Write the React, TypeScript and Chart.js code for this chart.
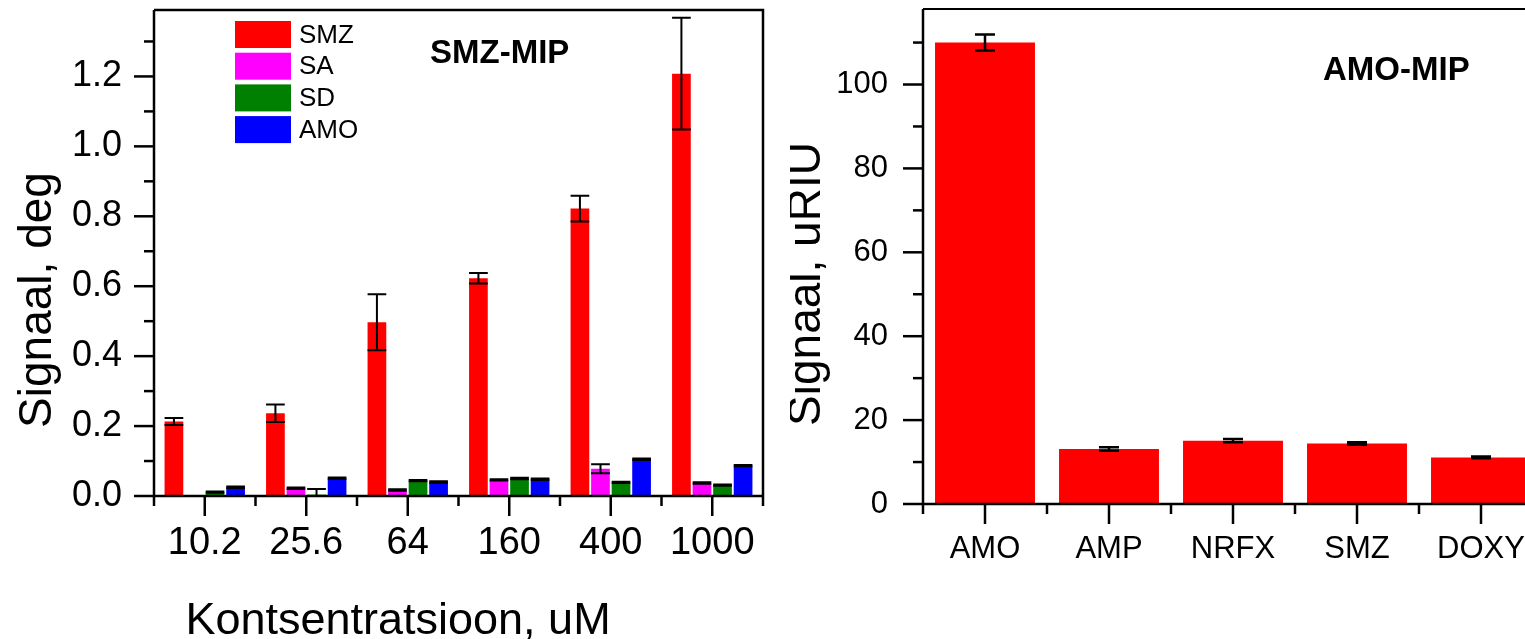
import React, { useEffect, useRef } from "react";
import { Chart, registerables } from "chart.js";

Chart.register(...registerables);

// ---------- Left chart data (SMZ-MIP) ----------
const CONCENTRATIONS = ["10.2", "25.6", "64", "160", "400", "1000"];
const SMZ_VALUES = [0.213, 0.237, 0.497, 0.623, 0.822, 1.208];
const SMZ_ERRORS = [0.01, 0.025, 0.08, 0.015, 0.037, 0.16];
const SA_VALUES = [null, 0.022, 0.017, 0.046, 0.078, 0.037];
const SA_ERRORS = [null, 0.002, 0.002, 0.002, 0.013, 0.002];
const SD_VALUES = [0.011, 0.004, 0.044, 0.05, 0.039, 0.031];
const SD_ERRORS = [0.002, 0.016, 0.002, 0.002, 0.002, 0.002];
const AMO_VALUES = [0.025, 0.051, 0.04, 0.048, 0.105, 0.087];
const AMO_ERRORS = [0.002, 0.002, 0.002, 0.002, 0.002, 0.002];
const LEFT_Y_TICKS = [0, 0.2, 0.4, 0.6, 0.8, 1.0, 1.2];

// ---------- Right chart data (AMO-MIP) ----------
const ANALYTES = ["AMO", "AMP", "NRFX", "SMZ", "DOXY"];
const AMO_MIP_VALUES = [110, 13.1, 15.1, 14.4, 11.1];
const AMO_MIP_ERRORS = [1.9, 0.4, 0.4, 0.3, 0.2];
const RIGHT_Y_TICKS = [0, 20, 40, 60, 80, 100];

const FONT = '"Liberation Sans", Arial, Helvetica, sans-serif';

const decoPlugin = {
  id: "deco",
  afterDatasetsDraw(chart: any, _args: any, opts: any) {
    const ctx = chart.ctx;
    const ys = chart.scales.y;
    const a = chart.chartArea;
    ctx.save();
    ctx.beginPath();
    ctx.rect(a.left, a.top, a.right - a.left, a.bottom - a.top);
    ctx.clip();
    ctx.strokeStyle = "#000";
    ctx.lineWidth = opts.errWidth || 2;
    chart.data.datasets.forEach((ds: any, di: number) => {
      const errs = ds.errors;
      if (!errs) return;
      const meta = chart.getDatasetMeta(di);
      meta.data.forEach((bar: any, i: number) => {
        const v = ds.data[i];
        const e = errs[i];
        if (v == null || e == null) return;
        const x = bar.x;
        const cw = opts.capWidth || bar.width;
        const yt = ys.getPixelForValue(v + e);
        const yb = ys.getPixelForValue(v - e);
        ctx.beginPath();
        ctx.moveTo(x, yt);
        ctx.lineTo(x, yb);
        ctx.moveTo(x - cw / 2, yt);
        ctx.lineTo(x + cw / 2, yt);
        ctx.moveTo(x - cw / 2, yb);
        ctx.lineTo(x + cw / 2, yb);
        ctx.stroke();
      });
    });
    ctx.restore();
  },
  afterDraw(chart: any, _args: any, opts: any) {
    const ctx = chart.ctx;
    const a = chart.chartArea;
    const xs = chart.scales.x;
    const ys = chart.scales.y;
    ctx.save();
    ctx.strokeStyle = "#000";
    ctx.lineCap = "butt";
    // frame
    ctx.lineWidth = opts.axisWidth;
    ctx.beginPath();
    ctx.moveTo(a.left, a.top);
    ctx.lineTo(a.left, a.bottom);
    ctx.lineTo(a.right, a.bottom);
    ctx.stroke();
    ctx.lineWidth = opts.frameWidth;
    ctx.beginPath();
    ctx.moveTo(a.left, a.top);
    ctx.lineTo(a.right, a.top);
    ctx.lineTo(a.right, a.bottom);
    ctx.stroke();
    // y ticks (major + minor)
    ctx.lineWidth = opts.axisWidth;
    const n = Math.floor(ys.max / opts.yMinor + 1e-6);
    const ratio = Math.round(opts.yMajor / opts.yMinor);
    for (let k = 0; k <= n; k++) {
      const y = ys.getPixelForValue(k * opts.yMinor);
      const len = k % ratio === 0 ? opts.majorLen : opts.minorLen;
      ctx.beginPath();
      ctx.moveTo(a.left - len, y);
      ctx.lineTo(a.left, y);
      ctx.stroke();
    }
    // x ticks
    const nc = chart.data.labels.length;
    for (let i = 0; i < nc; i++) {
      const x = xs.getPixelForValue(i);
      ctx.beginPath();
      ctx.moveTo(x, a.bottom);
      ctx.lineTo(x, a.bottom + opts.majorLen);
      ctx.stroke();
    }
    for (let i = 0; i <= nc; i++) {
      const x = xs.getPixelForValue(i - 0.5);
      ctx.beginPath();
      ctx.moveTo(x, a.bottom);
      ctx.lineTo(x, a.bottom + opts.minorLen);
      ctx.stroke();
    }
    // inner title
    ctx.fillStyle = "#000";
    if (opts.title) {
      ctx.font = `bold ${opts.title.size}px ${FONT}`;
      ctx.textAlign = "left";
      ctx.textBaseline = "alphabetic";
      ctx.fillText(opts.title.text, a.left + opts.title.dx, a.top + opts.title.dy);
    }
    // legend
    if (opts.legend) {
      const L = opts.legend;
      ctx.font = `${L.size}px ${FONT}`;
      ctx.textAlign = "left";
      ctx.textBaseline = "middle";
      chart.data.datasets.forEach((ds: any, i: number) => {
        const x0 = a.left + L.dx;
        const y0 = a.top + L.dy + i * L.row;
        ctx.fillStyle = ds.backgroundColor;
        ctx.fillRect(x0, y0, L.boxW, L.boxH);
        ctx.fillStyle = "#000";
        ctx.fillText(ds.label, x0 + L.boxW + L.gap, y0 + L.boxH / 2 + 1);
      });
    }
    // axis titles
    if (opts.yTitle) {
      const T = opts.yTitle;
      ctx.font = `${T.size}px ${FONT}`;
      ctx.textAlign = "center";
      ctx.textBaseline = "alphabetic";
      ctx.save();
      ctx.translate(T.x, T.y);
      ctx.rotate(-Math.PI / 2);
      ctx.fillText(T.text, 0, 0);
      ctx.restore();
    }
    if (opts.xTitle) {
      const T = opts.xTitle;
      ctx.font = `${T.size}px ${FONT}`;
      ctx.textAlign = "center";
      ctx.textBaseline = "alphabetic";
      ctx.fillText(T.text, T.x, T.y);
    }
    ctx.restore();
  },
};

function makeScales(cfg: any) {
  return {
    x: {
      type: "category",
      offset: true,
      grid: { display: false, drawTicks: false },
      border: { display: false },
      ticks: {
        color: "#000",
        font: { family: FONT, size: cfg.xFont, lineHeight: 1 },
        padding: cfg.xPad,
        maxRotation: 0,
        minRotation: 0,
        autoSkip: false,
      },
      afterFit: (s: any) => {
        s.height = cfg.xHeight;
        s.paddingLeft = 0;
        s.paddingRight = 0;
        s.paddingTop = 0;
        s.paddingBottom = 0;
      },
    },
    y: {
      min: 0,
      max: cfg.yMax,
      grid: { display: false, drawTicks: false },
      border: { display: false },
      ticks: {
        color: "#000",
        font: { family: FONT, size: cfg.yFont, lineHeight: 1 },
        padding: cfg.yPad,
        callback: cfg.yFormat,
      },
      afterBuildTicks: (s: any) => {
        s.ticks = cfg.yTicks.map((v: number) => ({ value: v }));
      },
      afterFit: (s: any) => {
        s.width = cfg.yWidth;
        s.paddingLeft = 0;
        s.paddingRight = 0;
        s.paddingTop = 0;
        s.paddingBottom = 0;
      },
    },
  };
}

function LeftChart() {
  const ref = useRef<HTMLCanvasElement>(null);
  useEffect(() => {
    const chart = new Chart(ref.current as HTMLCanvasElement, {
      type: "bar",
      data: {
        labels: CONCENTRATIONS,
        datasets: [
          { label: "SMZ", data: SMZ_VALUES, errors: SMZ_ERRORS, backgroundColor: "#ff0000" },
          { label: "SA", data: SA_VALUES, errors: SA_ERRORS, backgroundColor: "#ff00ff" },
          { label: "SD", data: SD_VALUES, errors: SD_ERRORS, backgroundColor: "#008000" },
          { label: "AMO", data: AMO_VALUES, errors: AMO_ERRORS, backgroundColor: "#0000ff" },
        ] as any,
      },
      options: {
        animation: false,
        responsive: false,
        devicePixelRatio: 1,
        layout: { padding: { top: 10, right: 27, left: 0, bottom: 0 } },
        datasets: { bar: { categoryPercentage: 0.81, barPercentage: 0.91, borderWidth: 0 } },
        plugins: {
          legend: { display: false },
          tooltip: { enabled: false },
          deco: {
            axisWidth: 2.5,
            frameWidth: 2.5,
            errWidth: 2,
            majorLen: 20,
            minorLen: 10,
            yMinor: 0.1,
            yMajor: 0.2,
            title: { text: "SMZ-MIP", size: 33, dx: 276, dy: 53 },
            legend: { dx: 81, dy: 11, row: 31.7, boxW: 56, boxH: 27, gap: 8, size: 26 },
            yTitle: { text: "Signaal, deg", size: 46, x: 51, y: 300 },
            xTitle: { text: "Kontsentratsioon, uM", size: 45, x: 398, y: 634 },
          },
        } as any,
        scales: makeScales({
          xFont: 38,
          xPad: 29,
          xHeight: 143,
          yMax: 1.39,
          yFont: 36,
          yPad: 32,
          yTicks: LEFT_Y_TICKS,
          yWidth: 154,
          yFormat: (v: any) => Number(v).toFixed(1),
        }) as any,
      },
      plugins: [decoPlugin as any],
    });
    return () => chart.destroy();
  }, []);
  return (
    <canvas
      ref={ref}
      width={790}
      height={639}
      style={{ position: "absolute", left: 0, top: 0, width: 790, height: 639 }}
    />
  );
}

function RightChart() {
  const ref = useRef<HTMLCanvasElement>(null);
  useEffect(() => {
    const chart = new Chart(ref.current as HTMLCanvasElement, {
      type: "bar",
      data: {
        labels: ANALYTES,
        datasets: [
          { label: "AMO-MIP", data: AMO_MIP_VALUES, errors: AMO_MIP_ERRORS, backgroundColor: "#ff0000" },
        ] as any,
      },
      options: {
        animation: false,
        responsive: false,
        devicePixelRatio: 1,
        layout: { padding: { top: 9, right: 17, left: 0, bottom: 0 } },
        datasets: { bar: { categoryPercentage: 0.806, barPercentage: 1, borderWidth: 0 } },
        plugins: {
          legend: { display: false },
          tooltip: { enabled: false },
          deco: {
            axisWidth: 2.5,
            frameWidth: 2,
            errWidth: 2.5,
            capWidth: 20,
            majorLen: 20,
            minorLen: 10,
            yMinor: 10,
            yMajor: 20,
            title: { text: "AMO-MIP", size: 33, dx: 400, dy: 71 },
            yTitle: { text: "Signaal, uRIU", size: 46, x: 30, y: 284 },
          },
        } as any,
        scales: makeScales({
          xFont: 31,
          xPad: 30,
          xHeight: 135,
          yMax: 118,
          yFont: 31,
          yPad: 35,
          yTicks: RIGHT_Y_TICKS,
          yWidth: 133,
          yFormat: (v: any) => String(v),
        }) as any,
      },
      plugins: [decoPlugin as any],
    });
    return () => chart.destroy();
  }, []);
  return (
    <canvas
      ref={ref}
      width={770}
      height={639}
      style={{ position: "absolute", left: 790, top: 0, width: 770, height: 639 }}
    />
  );
}

export default function App() {
  useEffect(() => {
    document.body.style.margin = "0";
    document.body.style.overflow = "hidden";
  }, []);
  return (
    <div
      style={{
        position: "relative",
        width: 1525,
        height: 639,
        overflow: "hidden",
        background: "#fff",
      }}
    >
      <LeftChart />
      <RightChart />
    </div>
  );
}
